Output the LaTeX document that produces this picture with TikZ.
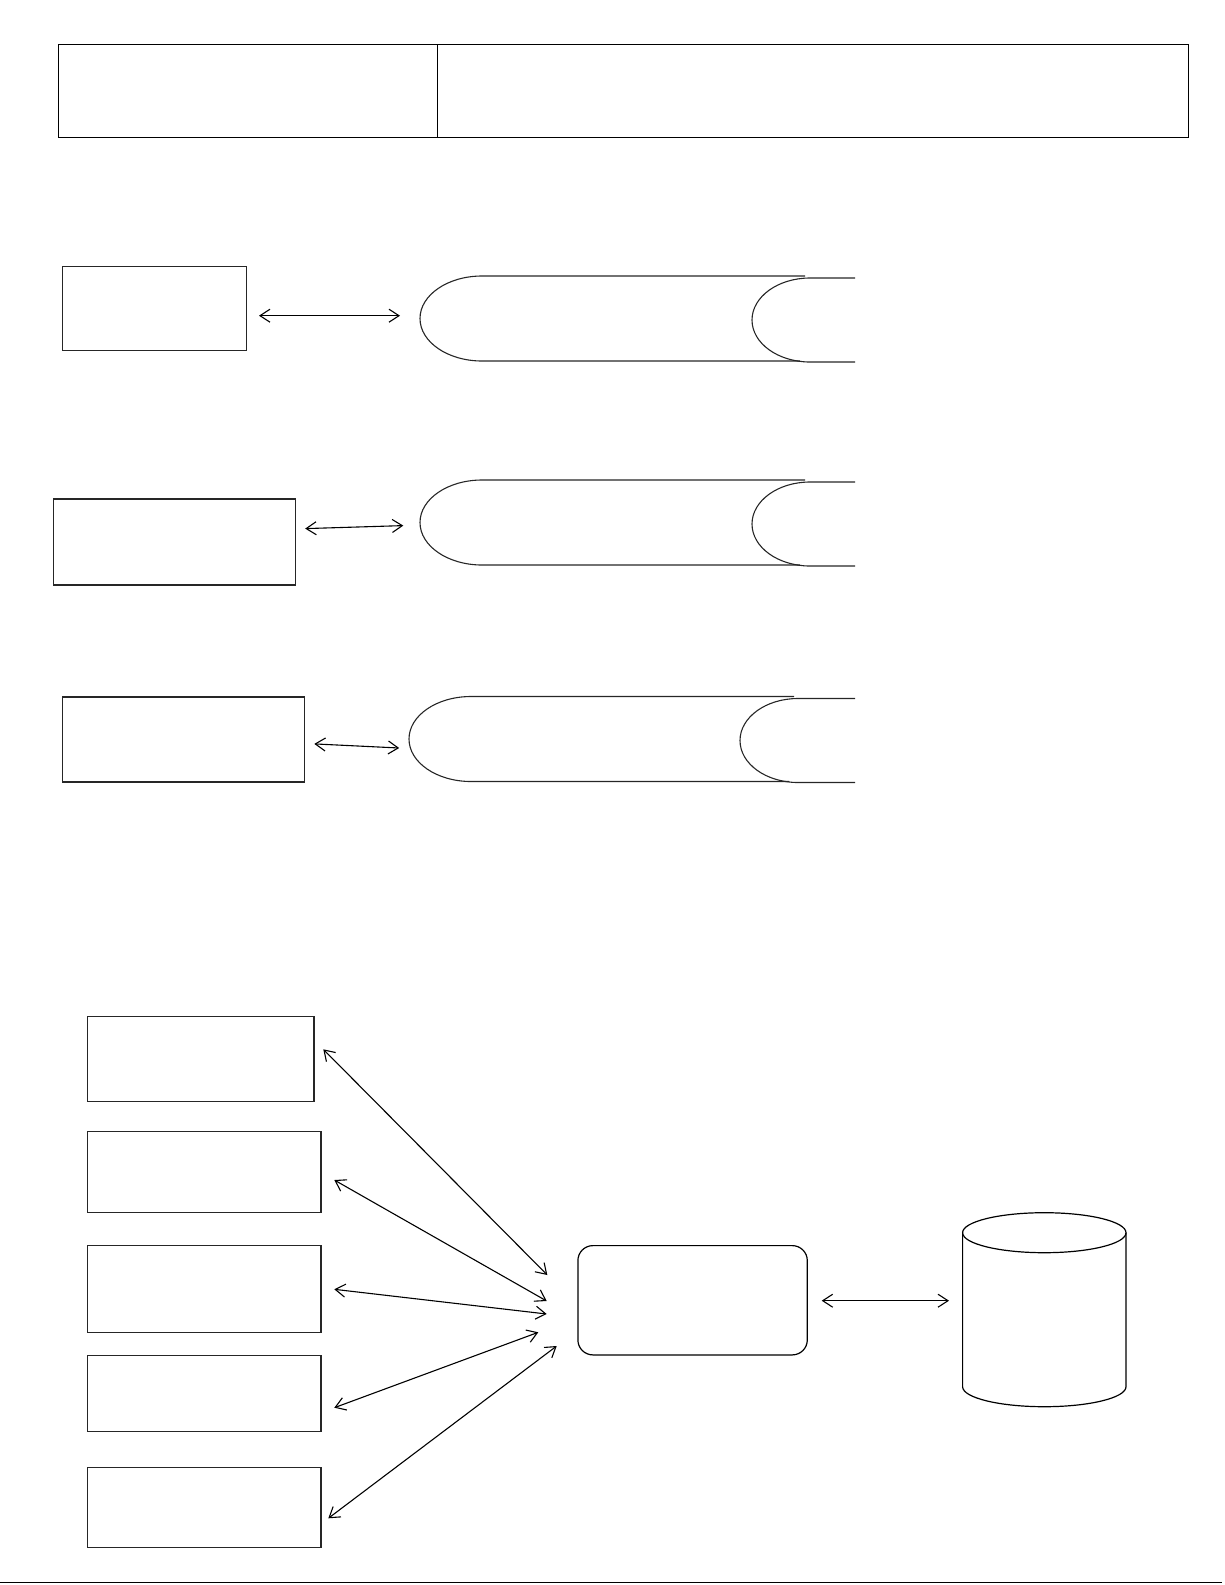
\documentclass[tikz,border=0pt]{standalone}
\usetikzlibrary{arrows.meta}
\begin{document}
\begin{tikzpicture}[x=1pt,y=-1pt,
  hdr/.style={draw=black, line width=1.4pt, inner sep=0pt, anchor=north west},
  box/.style={draw=black!85, line width=1.2pt, inner sep=0pt, anchor=north west},
  hubbox/.style={draw=black, line width=1.2pt, inner sep=0pt, anchor=north west, rounded corners=15pt},
  pipe/.style={draw=black!85, line width=1.1pt},
  biarrow/.style={{Straight Barb[length=10pt,width=13pt]}-{Straight Barb[length=10pt,width=13pt]}, line width=1.1pt}]
\useasboundingbox (0,0) rectangle (1225,1585);
% header
\node[hdr, minimum width=379pt, minimum height=93pt] (hdrL) at (57.6,43.5) {};
\node[hdr, minimum width=751pt, minimum height=93pt] (hdrR) at (436.6,43.5) {};
% upper boxes
\node[box, minimum width=184pt, minimum height=84pt] (b1) at (61.7,265.8) {};
\node[box, minimum width=242.5pt, minimum height=86pt] (b2) at (52.6,498.3) {};
\node[box, minimum width=242.5pt, minimum height=85pt] (b3) at (61.7,696.4) {};
% pipes
\draw[pipe] (805,276) -- (482,276) arc[start angle=90,end angle=270,x radius=62pt,y radius=42.5pt] -- (800,361);
\draw[pipe] (855,278) -- (810,278) arc[start angle=90,end angle=270,x radius=58pt,y radius=42pt] -- (855,362);
\draw[pipe] (805,480) -- (482,480) arc[start angle=90,end angle=270,x radius=62pt,y radius=42.5pt] -- (800,565);
\draw[pipe] (855,482) -- (810,482) arc[start angle=90,end angle=270,x radius=58pt,y radius=42pt] -- (855,566);
\draw[pipe] (794,696.5) -- (471,696.5) arc[start angle=90,end angle=270,x radius=62pt,y radius=42.5pt] -- (789,781.5);
\draw[pipe] (855,698.5) -- (798,698.5) arc[start angle=90,end angle=270,x radius=58pt,y radius=42pt] -- (855,782.5);
% upper arrows
\coordinate (u1a) at (259,315.7); \coordinate (u1b) at (400,315.7);
\coordinate (u2a) at (305.2,528.6); \coordinate (u2b) at (403.3,525.6);
\coordinate (u3a) at (314.3,743.9); \coordinate (u3b) at (399.2,748);
\draw[biarrow] (u1a) -- (u1b);
\draw[biarrow] (u2a) -- (u2b);
\draw[biarrow] (u3a) -- (u3b);
% lower boxes
\node[box, minimum width=226.4pt, minimum height=85pt] (c1) at (86.9,1015.8) {};
\node[box, minimum width=233.5pt, minimum height=80.5pt] (c2) at (86.9,1131) {};
\node[box, minimum width=233.5pt, minimum height=87pt] (c3) at (86.9,1245) {};
\node[box, minimum width=233.5pt, minimum height=76pt] (c4) at (86.9,1355) {};
\node[box, minimum width=233.5pt, minimum height=80pt] (c5) at (86.9,1466.6) {};
\node[hubbox, minimum width=229.4pt, minimum height=109.3pt] (hub) at (577.3,1245) {};
% cylinder
\draw[line width=1.2pt] (962.6,1232.7) -- (962.6,1386.7) arc[start angle=180,end angle=360,x radius=81.7pt,y radius=20pt] -- (1126,1232.7);
\draw[line width=1.2pt] (1044.3,1232.7) ellipse[x radius=81.7pt, y radius=20pt];
\coordinate (db) at (949,1300.7);
% lower arrows
\coordinate (a1s) at (323.3,1049.3); \coordinate (a1e) at (547.3,1275);
\coordinate (a2s) at (334.3,1180);   \coordinate (a2e) at (546.7,1301);
\coordinate (a3s) at (334.3,1289.3); \coordinate (a3e) at (546.7,1314);
\coordinate (a4s) at (334.3,1407.7); \coordinate (a4e) at (538.3,1332.3);
\coordinate (a5s) at (328.3,1518.3); \coordinate (a5e) at (556.7,1346);
\draw[biarrow] (a1s) -- (a1e);
\draw[biarrow] (a2s) -- (a2e);
\draw[biarrow] (a3s) -- (a3e);
\draw[biarrow] (a4s) -- (a4e);
\draw[biarrow] (a5s) -- (a5e);
\coordinate (hubE) at (821.7,1300.7);
\draw[biarrow] (hubE) -- (db);
% bottom rule
\coordinate (r1) at (0,1582.5); \coordinate (r2) at (1222,1582.5);
\draw[line width=1.6pt] (r1) -- (r2);
\end{tikzpicture}
\end{document}
